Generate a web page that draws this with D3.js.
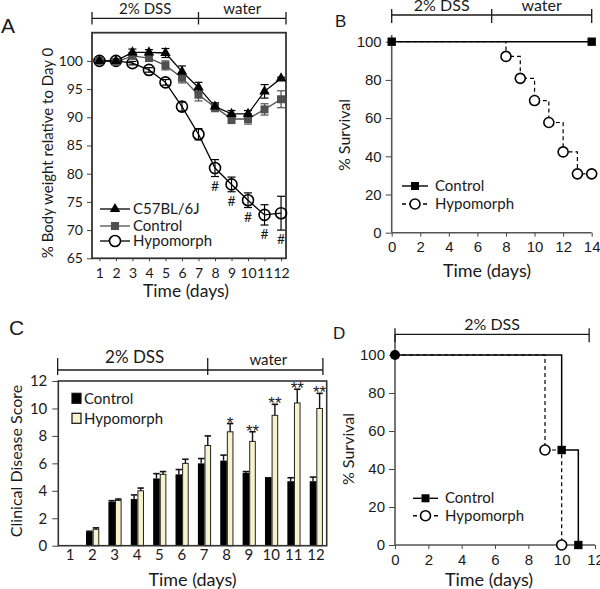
<!DOCTYPE html>
<html><head><meta charset="utf-8">
<script src="https://cdn.jsdelivr.net/npm/d3@7"></script>
<style>body{margin:0;background:#fff} svg{display:block}</style>
</head><body>
<svg id="c" width="600" height="589"></svg>
<script>
// ---------- Panel A: body weight ----------
const daysA = [1,2,3,4,5,6,7,8,9,10,11,12];
const c57Mean   = [100,100,101.5,101.5,101.4,98.1,95.3,91.9,90.6,90.6,94.6,96.9];
const c57Err    = [0.2,0.2,0.6,0.5,0.8,1.0,0.9,0.6,0.6,0.6,1.2,0.2];
const ctrlAMean = [100,99.8,100.9,100.5,99.2,97.0,94.0,91.8,89.7,89.7,91.4,93.2];
const ctrlAErr  = [0.2,0.3,0.5,0.5,0.8,0.9,1.1,0.8,0.8,0.9,1.0,1.5];
const hypoAMean = [100,100,99.6,98.4,96.2,91.9,87.0,81.0,78.1,75.3,72.7,73.0];
const hypoAErr  = [0.2,0.2,0.3,0.4,0.5,0.8,1.0,1.5,1.3,1.3,1.8,3.0];
const sigDaysA  = [8,9,10,11,12];
const yTicksA   = [65,70,75,80,85,90,95,100];
const phaseA    = [0.55,7,12.3];
// ---------- Panel B: survival ----------
const daysBCtrl = [0,14];
const survBCtrl = [100,100];
const daysBHypo = [0,8,9,10,11,12,13,14];
const survBHypo = [100,92.3,80.8,69.2,57.7,42.3,30.8,30.8];
const xTicksB   = [0,2,4,6,8,10,12,14];
const phaseB    = [0,7,14];
// ---------- Panel C: clinical score ----------
const daysC    = [1,2,3,4,5,6,7,8,9,10,11,12];
const ctrlC    = [0,1.0,3.2,3.4,4.9,5.2,6.0,6.2,5.3,5.0,4.7,4.7];
const ctrlCErr = [0,0.05,0.08,0.3,0.35,0.35,0.35,0.4,0.1,0,0.25,0.3];
const hypoC    = [0,1.2,3.3,4.0,5.2,6.0,7.3,8.3,7.6,9.5,10.4,10.0];
const hypoCErr = [0,0.1,0.1,0.2,0.2,0.3,0.7,0.6,0.7,0.8,1.0,1.1];
const sigC     = ["","","","","","","","*","**","**","**","**"];
const yTicksC  = [0,2,4,6,8,10,12];
const phaseC   = [0.47,7.18,12.33];
// ---------- Panel D: survival ----------
const daysDCtrl = [0,10,11];
const survDCtrl = [100,50,0];
const daysDHypo = [0,9,10];
const survDHypo = [100,50,0];
const xTicksD   = [0,2,4,6,8,10,12];
const phaseD    = [0,11.65];

const svg = d3.select('#c');
const LATO = 'Lato, "Open Sans", sans-serif';
const ARIAL = '"Liberation Sans", Arial, sans-serif';
const INK = '#1a1a1a';

function txt(g, x, y, s, o={}) {
  const t = g.append('text').attr('x', x).attr('y', y).text(s)
    .attr('font-family', o.ff || LATO).attr('font-size', o.fs || 15)
    .attr('fill', o.fill || INK).attr('text-anchor', o.anchor || 'middle');
  if (o.rot) t.attr('transform', `rotate(${o.rot},${x},${y})`);
  if (o.db) t.attr('dominant-baseline', o.db);
  return t;
}
function styleAxis(a, ff, fs) {
  a.select('.domain').remove();
  a.selectAll('line').attr('stroke', '#444').attr('stroke-width', 1);
  a.selectAll('text').attr('font-family', ff).attr('font-size', fs).attr('fill', INK);
}
function phaseBar(g, xs, y, t0, t1, labels, fs) {
  g.append('line').attr('x1', xs[0]).attr('x2', xs[xs.length-1]).attr('y1', y).attr('y2', y)
    .attr('stroke', INK).attr('stroke-width', 1.3);
  xs.forEach(x => g.append('line').attr('x1', x).attr('x2', x).attr('y1', t0).attr('y2', t1)
    .attr('stroke', INK).attr('stroke-width', 1.3));
  labels.forEach((l, i) => {
    if (l) txt(g, (xs[i] + xs[i+1]) / 2, y - 4, l, {fs: fs});
  });
}
function marker(g, type, x, y, o={}) {
  if (type === 'tri') {
    g.append('path').attr('d', d3.symbol(d3.symbolTriangle).size(o.size || 48)())
      .attr('transform', `translate(${x},${y})`).attr('fill', o.fill || '#000');
  } else if (type === 'sq') {
    g.append('path').attr('d', d3.symbol(d3.symbolSquare).size(o.size || 64)())
      .attr('transform', `translate(${x},${y})`).attr('fill', o.fill || '#000');
  } else if (type === 'circ') {
    g.append('circle').attr('cx', x).attr('cy', y).attr('r', o.r || 5.5)
      .attr('fill', o.fill || 'none').attr('stroke', o.stroke || '#000').attr('stroke-width', o.sw || 1.6);
  }
}

// ================= Panel A =================
(function(){
  const g = svg.append('g');
  const x = d3.scaleLinear().domain([0.55, 12.3]).range([92, 286]);
  const y = d3.scaleLinear().domain([65, 105]).range([258.3, 32.7]);
  const ay = g.append('g').attr('transform', 'translate(92,0)')
    .call(d3.axisLeft(y).tickValues(yTicksA).tickSize(5).tickPadding(4));
  styleAxis(ay, LATO, 14);
  const ax = g.append('g').attr('transform', 'translate(0,258.3)')
    .call(d3.axisBottom(x).tickValues(daysA).tickSize(3).tickPadding(7));
  styleAxis(ax, LATO, 14);
  g.append('rect').attr('x', 92).attr('y', 32.7).attr('width', 194).attr('height', 225.6)
    .attr('fill', 'none').attr('stroke', '#333').attr('stroke-width', 1.8);

  phaseBar(g, phaseA.map(x), 18.3, 12, 24.5, ['2% DSS', 'water'], 15);

  const series = [
    {m: hypoAMean, e: hypoAErr, col: '#000', type: 'circ'},
    {m: ctrlAMean, e: ctrlAErr, col: '#505050', type: 'sq'},
    {m: c57Mean, e: c57Err, col: '#000', type: 'tri'}
  ];
  series.forEach(s => {
    const pts = daysA.map((d, i) => [x(d), y(s.m[i])]);
    g.append('path').attr('d', d3.line()(pts)).attr('fill', 'none')
      .attr('stroke', s.col).attr('stroke-width', 1.3);
    daysA.forEach((d, i) => {
      const cx = x(d), y0 = y(s.m[i] - s.e[i]), y1 = y(s.m[i] + s.e[i]);
      g.append('line').attr('x1', cx).attr('x2', cx).attr('y1', y0).attr('y2', y1).attr('stroke', s.col).attr('stroke-width', 1.2);
      [y0, y1].forEach(yy => g.append('line').attr('x1', cx - 4).attr('x2', cx + 4).attr('y1', yy).attr('y2', yy).attr('stroke', s.col).attr('stroke-width', 1.2));
    });
  });
  series.forEach(s => {
    daysA.forEach((d, i) => marker(g, s.type, x(d), y(s.m[i]), {fill: s.type === 'circ' ? 'none' : s.col}));
  });
  sigDaysA.forEach(d => {
    const i = daysA.indexOf(d);
    txt(g, x(d), y(hypoAMean[i] - hypoAErr[i]) + 14, '#', {fs: 14});
  });
  // legend
  const leg = [
    {name: 'C57BL/6J', type: 'tri', col: '#000', y: 209},
    {name: 'Control', type: 'sq', col: '#505050', y: 226},
    {name: 'Hypomorph', type: 'circ', col: '#000', y: 241}
  ];
  leg.forEach(l => {
    g.append('line').attr('x1', 100).attr('x2', 130).attr('y1', l.y).attr('y2', l.y).attr('stroke', l.col).attr('stroke-width', 1.3);
    marker(g, l.type, 115, l.y, {fill: l.type === 'circ' ? '#fff' : l.col});
    txt(g, 133, l.y + 5, l.name, {fs: 15, anchor: 'start'});
  });
  txt(g, 47, 153, '% Body weight relative to Day 0', {fs: 15, rot: -90, db: 'central'});
  txt(g, 186, 297, 'Time (days)', {fs: 17.5});
  txt(g, 1, 33, 'A', {fs: 21, anchor: 'start', ff: ARIAL});
})();

// ================= Survival panels =================
function survPanel(o) {
  const g = svg.append('g');
  const x = d3.scaleLinear().domain(o.xDomain).range(o.xRange);
  const y = d3.scaleLinear().domain([0, 100]).range(o.yRange);
  const ax = g.append('g').attr('transform', `translate(0,${o.yRange[0]})`)
    .call(d3.axisBottom(x).tickValues(o.xTicks).tickSize(4).tickPadding(5));
  styleAxis(ax, ARIAL, 15);
  const ay = g.append('g').attr('transform', `translate(${o.xRange[0]},0)`)
    .call(d3.axisLeft(y).tickValues([0,20,40,60,80,100]).tickSize(6).tickPadding(4));
  styleAxis(ay, ARIAL, 15);
  g.append('line').attr('x1', o.xRange[0]).attr('x2', o.xRange[0]).attr('y1', o.yRange[0]).attr('y2', o.axisTop)
    .attr('stroke', '#555').attr('stroke-width', 1.6);
  g.append('line').attr('x1', o.xRange[0]).attr('x2', o.xRange[1]).attr('y1', o.yRange[0]).attr('y2', o.yRange[0])
    .attr('stroke', '#555').attr('stroke-width', 1.4);

  phaseBar(g, o.phase.map(x), o.phaseY, o.phaseY - 6, o.phaseY + 8, o.phaseLabels, 16);

  const line = d3.line().curve(d3.curveStepAfter);
  const hp = o.hypoDays.map((d, i) => [x(d), y(o.hypoVals[i])]);
  const cp = o.ctrlDays.map((d, i) => [x(d), y(o.ctrlVals[i])]);
  g.append('path').attr('d', line(hp)).attr('fill', 'none').attr('stroke', '#000')
    .attr('stroke-width', 1.2).attr('stroke-dasharray', '4,3');
  g.append('path').attr('d', line(cp)).attr('fill', 'none').attr('stroke', '#000').attr('stroke-width', 1.5);
  hp.forEach((p, i) => { if (i > 0) marker(g, 'circ', p[0], p[1], {fill: '#fff', r: 5}); });
  cp.forEach((p, i) => { if (i > 0 || o.startSquare) marker(g, 'sq', p[0], p[1], {size: 70}); });
  if (!o.startSquare) g.append('circle').attr('cx', cp[0][0]).attr('cy', cp[0][1]).attr('r', 5).attr('fill', '#000');

  // legend
  const L = o.legend;
  [{name: 'Control', dash: null, type: 'sq'}, {name: 'Hypomorph', dash: '4,3', type: 'circ'}].forEach((l, i) => {
    const yy = L.y[i];
    g.append('line').attr('x1', L.x0).attr('x2', L.x1).attr('y1', yy).attr('y2', yy)
      .attr('stroke', '#000').attr('stroke-width', 1.4).attr('stroke-dasharray', l.dash);
    marker(g, l.type, (L.x0 + L.x1) / 2, yy, {fill: '#fff', r: 5, size: 64});
    if (l.type === 'sq') marker(g, 'sq', (L.x0 + L.x1) / 2, yy, {size: 64});
    txt(g, L.tx, yy + 5, l.name, {fs: 15, anchor: 'start'});
  });
  txt(g, o.yTitle[0], o.yTitle[1], '% Survival', {fs: 16, rot: -90, db: 'central'});
  txt(g, o.xTitle[0], o.xTitle[1], 'Time (days)', {fs: 18});
  txt(g, o.letter[0], o.letter[1], o.letter[2], {fs: 17, anchor: 'start', ff: ARIAL});
}

survPanel({
  xDomain: [0, 14], xRange: [391.7, 591.7], yRange: [232.7, 41.7], axisTop: 35,
  xTicks: xTicksB, phase: phaseB, phaseY: 15, phaseLabels: ['2% DSS', 'water'],
  ctrlDays: daysBCtrl, ctrlVals: survBCtrl, hypoDays: daysBHypo, hypoVals: survBHypo,
  startSquare: true,
  legend: {x0: 402, x1: 428, tx: 435, y: [186, 204]},
  yTitle: [343, 135], xTitle: [487, 277], letter: [335, 27, 'B']
});

survPanel({
  xDomain: [0, 12], xRange: [395, 595], yRange: [545, 355], axisTop: 334,
  xTicks: xTicksD, phase: phaseD, phaseY: 334.3, phaseLabels: ['2% DSS'],
  ctrlDays: daysDCtrl, ctrlVals: survDCtrl, hypoDays: daysDHypo, hypoVals: survDHypo,
  startSquare: false,
  legend: {x0: 413, x1: 438, tx: 445, y: [498.3, 515.7]},
  yTitle: [347, 449], xTitle: [489, 586], letter: [333, 338.5, 'D']
});

// ================= Panel C =================
(function(){
  const g = svg.append('g');
  const x = d3.scaleBand().domain(daysC).range([58.3, 326.7]).padding(0);
  const xc = d3.scaleLinear().domain([0.5, 12.5]).range([58.3, 326.7]);
  const y = d3.scaleLinear().domain([0, 12]).range([545.7, 381]);
  const ay = g.append('g').attr('transform', 'translate(58.3,0)')
    .call(d3.axisLeft(y).tickValues(yTicksC).tickSize(6).tickPadding(5));
  styleAxis(ay, LATO, 15);
  const ax = g.append('g').attr('transform', 'translate(0,545.7)')
    .call(d3.axisBottom(x).tickSize(0).tickPadding(4));
  styleAxis(ax, LATO, 15);
  ax.selectAll('text').attr('dx', 0.5);

  phaseBar(g, phaseC.map(xc), 370, 358, 375, [null, null], 15);
  txt(g, (xc(phaseC[0]) + xc(phaseC[1])) / 2 + 2, 363, '2% DSS', {fs: 17});
  txt(g, (xc(phaseC[1]) + xc(phaseC[2])) / 2 + 3, 365, 'water', {fs: 15});

  const bw = x.bandwidth();
  daysC.forEach((d, i) => {
    const c = x(d) + bw / 2;
    // control bar
    if (ctrlC[i] > 0) {
      g.append('rect').attr('x', c - 5.8).attr('y', y(ctrlC[i])).attr('width', 6.6)
        .attr('height', y(0) - y(ctrlC[i])).attr('fill', '#000');
    }
    if (hypoC[i] > 0) {
      g.append('rect').attr('x', c + 1.3).attr('y', y(hypoC[i])).attr('width', 5.6)
        .attr('height', y(0) - y(hypoC[i])).attr('fill', '#f8f3cc').attr('stroke', '#222').attr('stroke-width', 1);
    }
    [[c - 2.5, ctrlC[i], ctrlCErr[i]], [c + 4.1, hypoC[i], hypoCErr[i]]].forEach(([cx, m, e]) => {
      if (m <= 0 || e <= 0) return;
      g.append('line').attr('x1', cx).attr('x2', cx).attr('y1', y(m)).attr('y2', y(m + e)).attr('stroke', '#111').attr('stroke-width', 1.4);
      g.append('line').attr('x1', cx - 3.2).attr('x2', cx + 3.2).attr('y1', y(m + e)).attr('y2', y(m + e)).attr('stroke', '#111').attr('stroke-width', 1.6);
    });
    if (sigC[i]) txt(g, c + 4.1, y(hypoC[i] + hypoCErr[i]) + 5, sigC[i], {fs: 17, ff: ARIAL});
  });
  g.append('rect').attr('x', 58.3).attr('y', 381).attr('width', 268.4).attr('height', 164.7)
    .attr('fill', 'none').attr('stroke', '#333').attr('stroke-width', 1.6);

  // legend
  [['Control', '#000'], ['Hypomorph', '#f8f3cc']].forEach(([n, f], i) => {
    const yy = 398.3 + i * 20;
    g.append('rect').attr('x', 72).attr('y', yy - 5).attr('width', 9).attr('height', 10)
      .attr('fill', f).attr('stroke', '#111').attr('stroke-width', 1.2);
    txt(g, 84, yy + 5.5, n, {fs: 15, anchor: 'start'});
  });
  txt(g, 15, 461, 'Clinical Disease Score', {fs: 16, rot: -90, db: 'central'});
  txt(g, 192.5, 586, 'Time (days)', {fs: 18});
  txt(g, 9, 335, 'C', {fs: 21, anchor: 'start', ff: ARIAL});
})();
</script>
</body></html>
